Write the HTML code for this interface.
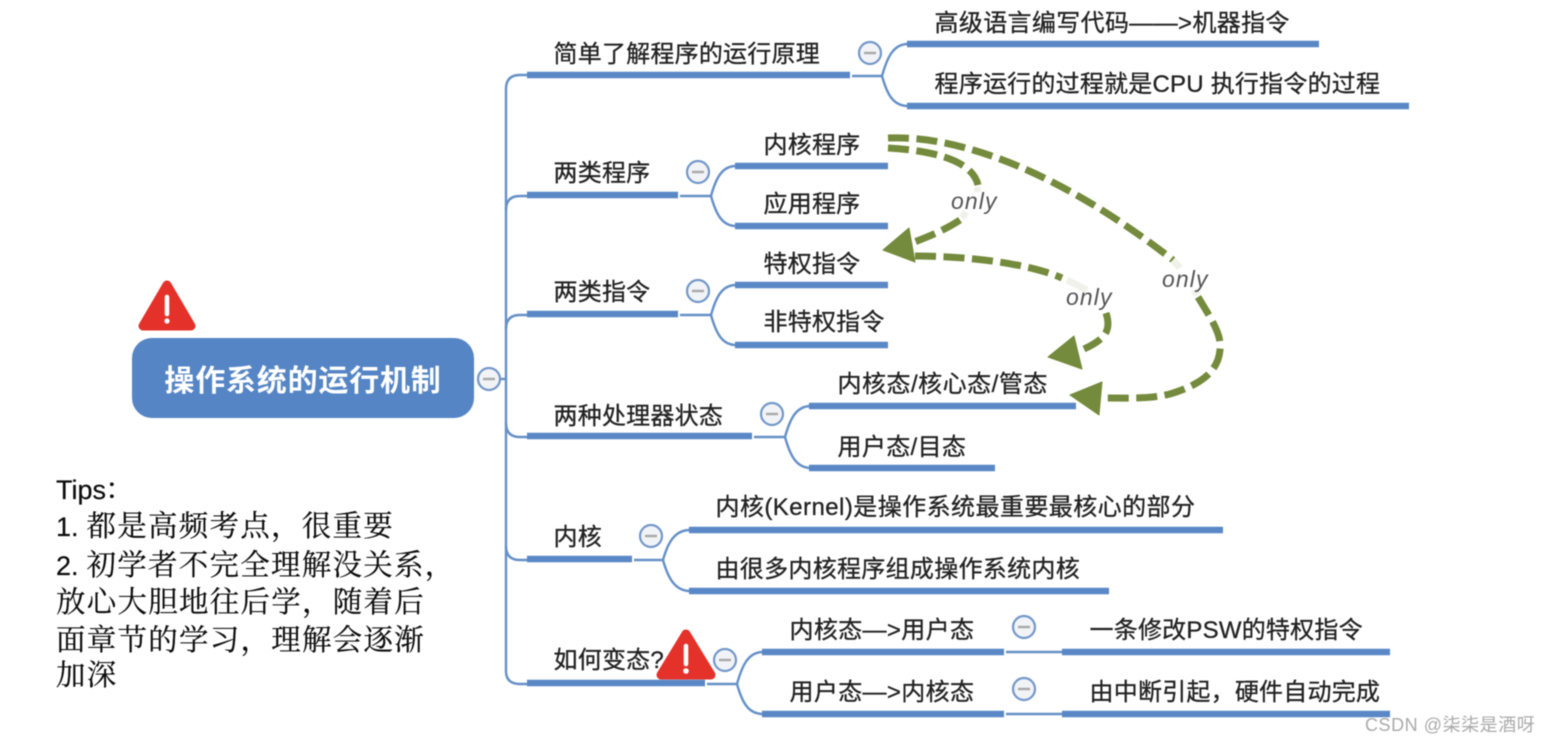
<!DOCTYPE html>
<html lang="zh">
<head>
<meta charset="utf-8">
<title>操作系统的运行机制</title>
<style>
html,body{margin:0;padding:0;background:#fff;width:1552px;height:743px;overflow:hidden}
svg{display:block;filter:blur(0.5px)}
text{font-family:"Liberation Sans","Noto Sans CJK SC",sans-serif}
.t{font-size:24px;fill:#222;stroke:#222;stroke-width:.3;letter-spacing:.22px}
.tip{font-size:29.5px;fill:#0c0c0c;stroke:#0c0c0c;stroke-width:.2;font-family:"Liberation Sans","Noto Serif CJK SC",serif;letter-spacing:1.25px}
.tl{font-size:27px;letter-spacing:0;font-family:"Liberation Sans",sans-serif}
.bar{stroke:#5a88c6;stroke-width:6.5;fill:none}
.thin{stroke:#6590c8;stroke-width:2.4;fill:none}
.dash{stroke:#748a3c;stroke-width:7;fill:none;stroke-dasharray:21 7.5}
.arrow{fill:#748a3c;stroke:#748a3c;stroke-width:1;stroke-linejoin:round}
.only{font-size:23px;font-style:italic;fill:#555;letter-spacing:1.1px}
.glow{stroke:#f1f1ec;stroke-width:7;fill:none}
.c{fill:#f1f3f7;stroke:#7397c9;stroke-width:2.2}
.m{stroke:#aaa;stroke-width:2.5}
</style>
</head>
<body>
<svg width="1552" height="743" viewBox="0 0 1552 743" xmlns="http://www.w3.org/2000/svg">
<rect width="1552" height="743" fill="#fff"/>

<!-- trunk -->
<path class="thin" d="M500 379H506"/>
<path class="thin" d="M527 75H520Q506 75 506 89V671Q506 684 520 684H527"/>
<path class="thin" d="M506 210Q506 196 520 196H527M506 329Q506 315 520 315H527M506 423Q506 437 520 437H527M506 546Q506 560 520 560H527"/>

<!-- branch connectors -->
<path class="thin" d="M852 76H882C887 58 893 44 908 44M882 76C887 94 893 106 908 106"/>
<path class="thin" d="M680 196H711C716 178 722 166 736 166M711 196C716 214 722 226 736 226"/>
<path class="thin" d="M680 315H711C716 297 722 285 736 285M711 315C716 333 722 345 736 345"/>
<path class="thin" d="M754 437H785C790 419 796 406 811 406M785 437C790 455 796 468 811 468"/>
<path class="thin" d="M634 560H663C668 542 675 530 690 530M663 560C668 578 675 591 690 591"/>
<path class="thin" d="M707 684H737C742 666 748 652 763 652M737 684C742 702 748 714 763 714"/>
<path class="thin" d="M1006 652H1062M1006 714H1062"/>

<!-- bars -->
<path class="bar" d="M527 75H850M527 195H678M527 314H678M527 436H752M527 559H632M527 683H705"/>
<path class="bar" d="M907 44H1319M907 106H1409M735 166H888M735 226H888M735 285H888M735 345H888M809 406H1076M809 468H995M689 530H1223M689 591H1109M762 652H1004M762 714H1004M1062 652H1390M1062 714H1390"/>

<!-- root -->
<rect x="132" y="338" width="342" height="80" rx="20" fill="#5585c5"/>
<text x="303" y="391" text-anchor="middle" style="font-size:30px;font-weight:700;fill:#fff;letter-spacing:.8px">操作系统的运行机制</text>

<!-- collapse circles -->
<g>
<circle class="c" cx="489" cy="379" r="11"/><path class="m" d="M483 379H495"/>
<circle class="c" cx="870" cy="53" r="11"/><path class="m" d="M864 53H876"/>
<circle class="c" cx="698" cy="172" r="11"/><path class="m" d="M692 172H704"/>
<circle class="c" cx="698" cy="291" r="11"/><path class="m" d="M692 291H704"/>
<circle class="c" cx="772" cy="414" r="11"/><path class="m" d="M766 414H778"/>
<circle class="c" cx="651" cy="536" r="11"/><path class="m" d="M645 536H657"/>
<circle class="c" cx="725" cy="660" r="11"/><path class="m" d="M719 660H731"/>
<circle class="c" cx="1024" cy="627" r="11"/><path class="m" d="M1018 627H1030"/>
<circle class="c" cx="1024" cy="689" r="11"/><path class="m" d="M1018 689H1030"/>
</g>

<!-- labels -->
<text class="t" x="553.5" y="62">简单了解程序的运行原理</text>
<text class="t" x="934.5" y="31" style="letter-spacing:.35px">高级语言编写代码——&gt;机器指令</text>
<text class="t" x="934.5" y="92">程序运行的过程就是CPU 执行指令的过程</text>
<text class="t" x="553.5" y="181">两类程序</text>
<text class="t" x="763.5" y="153">内核程序</text>
<text class="t" x="763.5" y="212">应用程序</text>
<text class="t" x="553.5" y="300">两类指令</text>
<text class="t" x="763.5" y="272">特权指令</text>
<text class="t" x="763.5" y="330">非特权指令</text>
<text class="t" x="553.5" y="424">两种处理器状态</text>
<text class="t" x="837.5" y="392" style="letter-spacing:.5px">内核态/核心态/管态</text>
<text class="t" x="837.5" y="455" style="letter-spacing:.35px">用户态/目态</text>
<text class="t" x="553.5" y="545">内核</text>
<text class="t" x="715.5" y="515" style="letter-spacing:.44px">内核(Kernel)是操作系统最重要最核心的部分</text>
<text class="t" x="715.5" y="577" style="letter-spacing:.3px">由很多内核程序组成操作系统内核</text>
<text class="t" x="553.5" y="668">如何变态?</text>
<text class="t" x="789.5" y="638" style="letter-spacing:.35px">内核态—&gt;用户态</text>
<text class="t" x="789.5" y="700" style="letter-spacing:.35px">用户态—&gt;内核态</text>
<text class="t" x="1089.5" y="638">一条修改PSW的特权指令</text>
<text class="t" x="1089.5" y="700">由中断引起，硬件自动完成</text>

<!-- warnings -->
<g>
<path d="M167 285L143 326H191Z" fill="#e4322b" stroke="#e4322b" stroke-width="9" stroke-linejoin="round"/>
<path d="M167 297V314" stroke="#fff" stroke-width="4.5" stroke-linecap="round"/>
<circle cx="167" cy="321" r="2.6" fill="#fff"/>
<path d="M686 634L661 675H711Z" fill="#e4322b" stroke="#e4322b" stroke-width="9" stroke-linejoin="round"/>
<path d="M686 646V664" stroke="#fff" stroke-width="4.5" stroke-linecap="round"/>
<circle cx="686" cy="671" r="2.8" fill="#fff"/>
</g>

<!-- dashed arrows -->
<path class="dash" d="M888 148C925 150 972 158 978 185"/>
<path class="glow" d="M977 187L978 192M966 212L962 218"/>
<path class="dash" d="M960 220C945 230 930 236 912 243"/>
<path class="arrow" d="M883 250L909 228L915 262Z"/>

<path class="dash" d="M888 138C960 135 1060 172 1173 260"/>
<path class="glow" d="M1173 260L1180 268M1194 290L1197 295"/>
<path class="dash" d="M1198 297C1212 320 1222 335 1220 350C1218 372 1200 385 1170 394C1150 399 1130 398 1100 398"/>
<path class="arrow" d="M1070 395L1102 382L1099 415Z"/>

<path class="dash" d="M915 256C970 256 1030 264 1062 278"/>
<path class="glow" d="M1067 280L1087 290"/>
<path class="dash" d="M1106 313C1111 328 1108 338 1084 349"/>
<path class="arrow" d="M1048 357L1074 336L1082 369Z"/>

<text class="only" x="951" y="209">only</text>
<text class="only" x="1066" y="305">only</text>
<text class="only" x="1162" y="287">only</text>

<!-- tips -->
<text class="tip" x="56" y="499"><tspan class="tl">Tips</tspan><tspan x="105">：</tspan></text>
<text class="tip" x="56" y="536"><tspan class="tl">1.</tspan><tspan x="86.5">都是高频考点，很重要</tspan></text>
<text class="tip" x="56" y="575"><tspan class="tl">2.</tspan><tspan x="86.5">初学者不完全理解没关系，</tspan></text>
<text class="tip" x="56" y="612">放心大胆地往后学，随着后</text>
<text class="tip" x="56" y="650">面章节的学习，理解会逐渐</text>
<text class="tip" x="56" y="685">加深</text>

<text x="1365" y="731" style="font-size:18px;fill:#aaa;letter-spacing:.55px">CSDN @柒柒是酒呀</text>
</svg>
</body>
</html>
